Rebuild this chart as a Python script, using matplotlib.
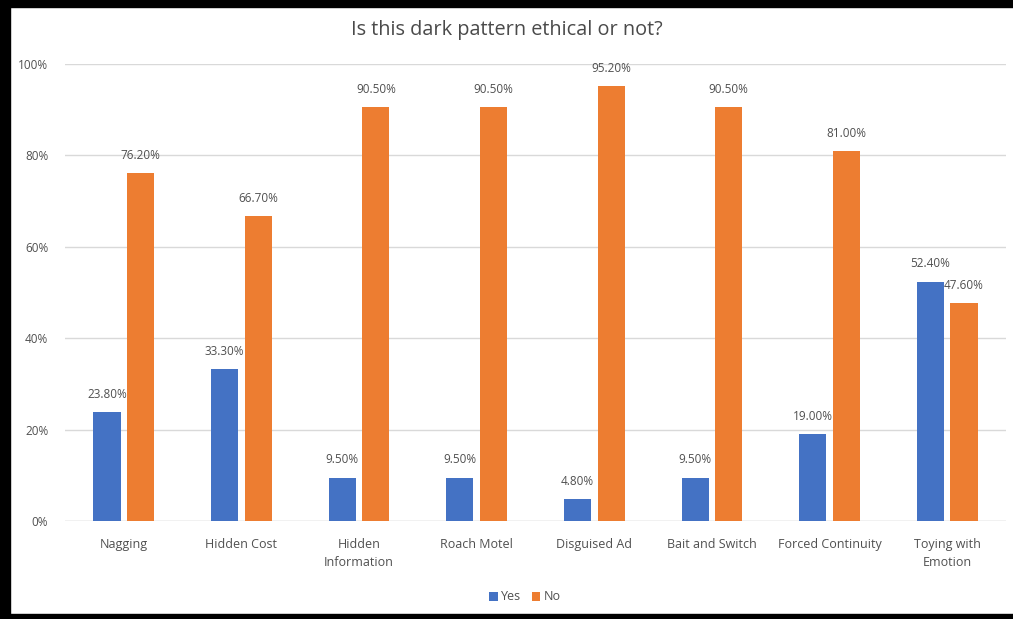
import matplotlib
matplotlib.use("Agg")
import matplotlib.pyplot as plt
from matplotlib.patches import Rectangle
from matplotlib.ticker import FuncFormatter
import numpy as np

categories = ["Nagging", "Hidden Cost", "Hidden\nInformation", "Roach Motel",
              "Disguised Ad", "Bait and Switch", "Forced Continuity", "Toying with\nEmotion"]
yes_vals = [23.8, 33.3, 9.5, 9.5, 4.8, 9.5, 19.0, 52.4]
no_vals = [76.2, 66.7, 90.5, 90.5, 95.2, 90.5, 81.0, 47.6]
series_names = ["Yes", "No"]
title = "Is this dark pattern ethical or not?"

plt.rcParams['font.family'] = ['Open Sans', 'DejaVu Sans']
W, H = 1013, 619
fig = plt.figure(figsize=(W / 100, H / 100), dpi=100)
fig.patch.set_facecolor("white")
ax = fig.add_axes([65 / W, 1 - 521 / H, (1006 - 65) / W, (521 - 64) / H])

blue = "#4472C4"
orange = "#ED7D31"
txt = "#505050"
x = np.arange(len(categories))
bw = 0.23
off = 0.143
b1 = ax.bar(x - off, yes_vals, bw, color=blue, label=series_names[0], zorder=3)
b2 = ax.bar(x + off, no_vals, bw, color=orange, label=series_names[1], zorder=3)

for bars, vals in ((b1, yes_vals), (b2, no_vals)):
    for r, v in zip(bars, vals):
        ax.annotate(f"{v:.2f}%", (r.get_x() + r.get_width() / 2, v),
                    xytext=(0, 8), textcoords="offset points", ha="center",
                    va="bottom", fontsize=8.5, color=txt)

ax.set_xlim(-0.5, len(categories) - 0.5)
ax.set_ylim(0, 100)
ax.set_yticks(np.arange(0, 101, 20))
ax.yaxis.set_major_formatter(FuncFormatter(lambda v, p: f"{v:.0f}%"))
ax.set_xticks(x)
ax.set_xticklabels(categories, fontsize=9, color=txt, linespacing=1.5)
ax.tick_params(axis="y", labelsize=8.5, labelcolor=txt, length=0, pad=12)
ax.tick_params(axis="x", length=0, pad=12)
ax.grid(axis="y", color="#D9D9D9", linewidth=1, zorder=0)
for s in ax.spines.values():
    s.set_visible(False)
ax.axhline(0, color="#D9D9D9", linewidth=1, zorder=1)

fig.text(0.5, 1 - 30 / H, title, ha="center", va="center", fontsize=14.3, color="#4a4a4a")
fig.legend(handles=[b1, b2], labels=series_names, loc="center",
           bbox_to_anchor=(525 / W, 1 - 597 / H), ncol=2, frameon=False,
           fontsize=9, handlelength=0.7, handleheight=0.7, columnspacing=0.8,
           handletextpad=0.3, labelcolor=txt)

# black frame (left, top, bottom)
def rect(x0, y0, w, h):
    fig.patches.append(Rectangle((x0 / W, 1 - (y0 + h) / H), w / W, h / H,
                                 transform=fig.transFigure, color="black",
                                 zorder=10))
rect(0, 0, 10, H)
rect(0, 0, W, 7)
rect(0, H - 5, W, 5)

fig.savefig("out.png", dpi=100)
